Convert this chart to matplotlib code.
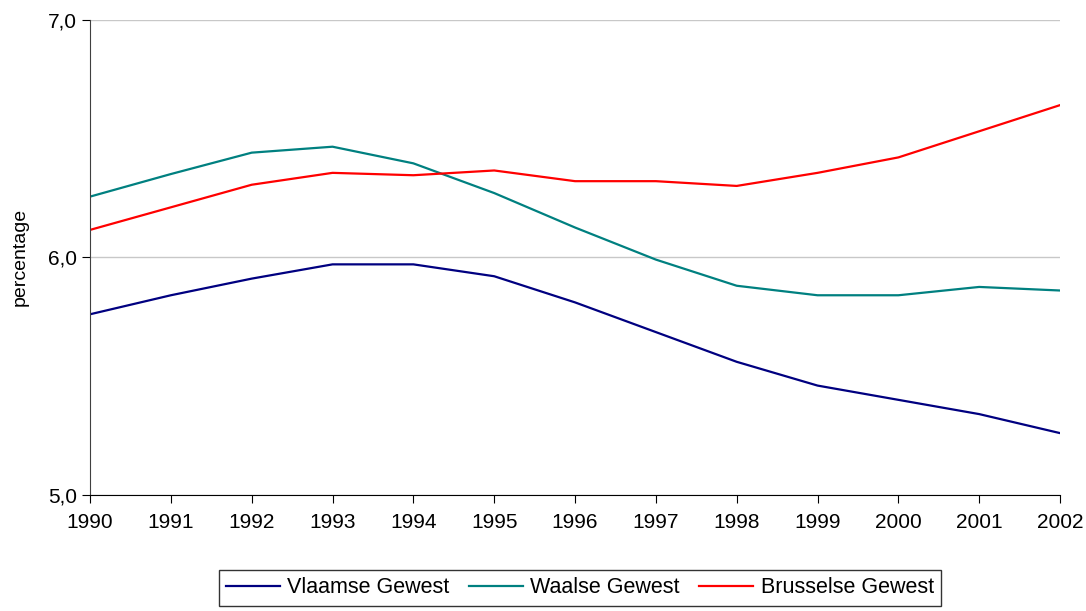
"""
Line chart: percentage per gewest, 1990-2002
"""
import matplotlib
matplotlib.use("Agg")
import matplotlib.pyplot as plt
from matplotlib.ticker import FuncFormatter

years = [1990, 1991, 1992, 1993, 1994, 1995, 1996, 1997, 1998, 1999, 2000, 2001, 2002]
vlaamse = [5.76, 5.84, 5.91, 5.97, 5.97, 5.92, 5.81, 5.685, 5.56, 5.46, 5.40, 5.34, 5.26]
waalse = [6.255, 6.35, 6.44, 6.465, 6.395, 6.27, 6.125, 5.99, 5.88, 5.84, 5.84, 5.875, 5.86]
brusselse = [6.115, 6.21, 6.305, 6.355, 6.345, 6.365, 6.32, 6.32, 6.30, 6.355, 6.42, 6.53, 6.64]
labels = ["Vlaamse Gewest", "Waalse Gewest", "Brusselse Gewest"]


def main():
    plt.rcParams["font.family"] = ["Liberation Sans", "DejaVu Sans"]
    fig = plt.figure(figsize=(10.86, 6.11), dpi=100)
    ax = fig.add_axes([0.0829, 0.19, 0.8932, 0.778])

    ax.plot(years, vlaamse, color="#000080", lw=1.6, label=labels[0])
    ax.plot(years, waalse, color="#008080", lw=1.6, label=labels[1])
    ax.plot(years, brusselse, color="#FF0000", lw=1.6, label=labels[2])

    ax.set_xlim(1990, 2002)
    ax.set_ylim(5.0, 7.0)
    ax.set_xticks(years)
    ax.set_yticks([5.0, 6.0, 7.0])
    ax.yaxis.set_major_formatter(FuncFormatter(lambda v, p: f"{v:.1f}".replace(".", ",")))
    ax.grid(axis="y", color="#c8c8c8", lw=1)
    ax.set_axisbelow(True)
    for side in ("top", "right"):
        ax.spines[side].set_visible(False)
    ax.spines["left"].set_color("#404040")
    ax.spines["bottom"].set_color("black")
    ax.tick_params(axis="both", labelsize=15, length=6, direction="out")
    ax.tick_params(axis="x", pad=7)
    ax.set_ylabel("percentage", fontsize=14, labelpad=14)

    leg = fig.legend(loc="upper center", bbox_to_anchor=(0.534, 0.085), ncol=3,
                     fontsize=15.5, frameon=True, fancybox=False, handlelength=2.5,
                     columnspacing=0.9, handletextpad=0.35, borderpad=0.35)
    leg.get_frame().set_edgecolor("black")
    leg.get_frame().set_linewidth(1)

    fig.savefig("out.png", dpi=100)


if __name__ == "__main__":
    main()
